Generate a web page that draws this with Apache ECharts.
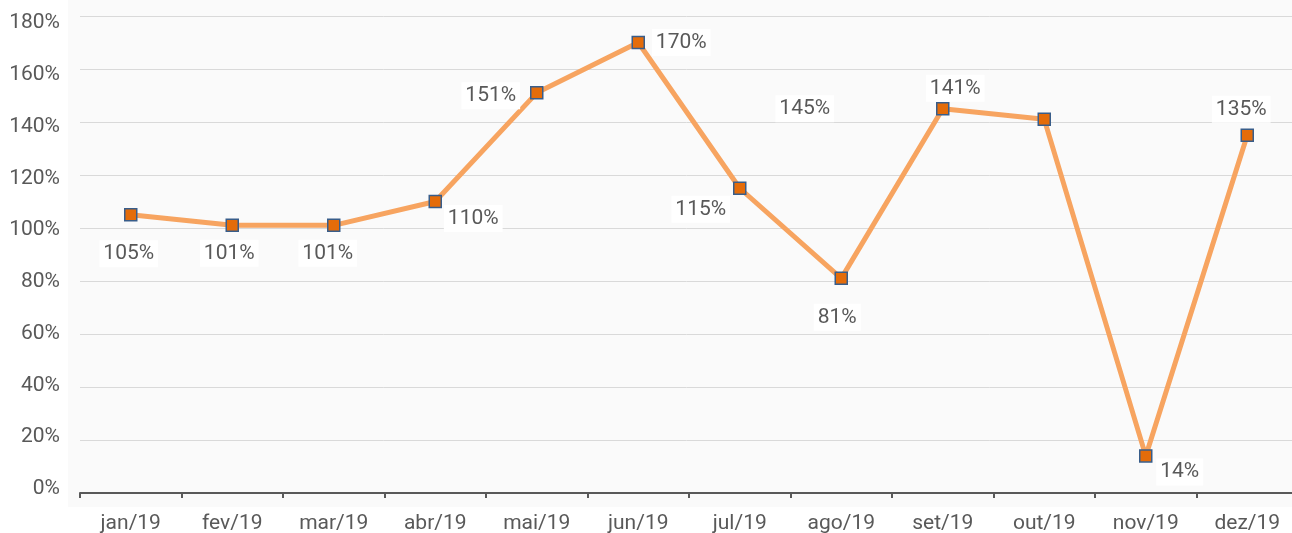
<!DOCTYPE html>
<html>
<head>
<meta charset="utf-8">
<style>
  html, body { margin: 0; padding: 0; background: #ffffff; }
  #chart { width: 1292px; height: 533px; }
</style>
<script src="https://cdn.jsdelivr.net/npm/echarts@6/dist/echarts.min.js"></script>
</head>
<body>
<div id="chart"></div>
<script>
// Monthly achievement, 2019
const months = ['jan/19', 'fev/19', 'mar/19', 'abr/19', 'mai/19', 'jun/19',
                'jul/19', 'ago/19', 'set/19', 'out/19', 'nov/19', 'dez/19'];
const values = [105, 101, 101, 110, 151, 170, 115, 81, 145, 141, 14, 135];
const yTicks = [0, 20, 40, 60, 80, 100, 120, 140, 160, 180];

// Where each value label sits relative to its marker [dx, dy]
const labelOffsets = [
  [-2, 39], [-3, 28], [-6, 28], [38, 17], [-46, 3], [43, 0],
  [-39, 21], [-4, 39], [-138, 0], [-89, -31], [34, 16], [-6, -26]
];

const textColor = '#595959';
const font = 'Roboto, "Noto Sans", sans-serif';
const yMin = yTicks[0];
const yMax = yTicks[yTicks.length - 1];
const yStep = yTicks[1] - yTicks[0];

const chart = echarts.init(document.getElementById('chart'), null, { renderer: 'canvas' });

chart.setOption({
  backgroundColor: '#ffffff',
  animation: false,
  graphic: [{
    type: 'rect', z: -10, silent: true,
    shape: { x: 68, y: 0, width: 1224, height: 507 },
    style: { fill: '#fafafa' }
  }],
  grid: [
    // plot area
    { left: 80, width: 1218, top: 16, bottom: 40, containLabel: false, outerBoundsMode: 'none' },
    // tick-label column for the value axis
    { left: 80, width: 10, top: 23, bottom: 44, containLabel: false, outerBoundsMode: 'none' }
  ],
  xAxis: [{
    type: 'category',
    gridIndex: 0,
    data: months,
    boundaryGap: true,
    axisLine: { show: true, lineStyle: { color: '#595959', width: 2 } },
    axisTick: { show: true, length: 5, lineStyle: { color: '#595959', width: 2 } },
    axisLabel: { color: textColor, fontSize: 21, fontFamily: font, margin: 20 },
    splitLine: { show: false }
  }, {
    type: 'category', gridIndex: 1, data: [''], show: false
  }],
  yAxis: [{
    type: 'value',
    gridIndex: 0,
    min: yMin, max: yMax, interval: yStep,
    axisLine: { show: false },
    axisTick: { show: false },
    axisLabel: { show: false },
    splitLine: { show: true, lineStyle: { color: '#d9d9d9', width: 1 } }
  }, {
    type: 'value',
    gridIndex: 1,
    min: yMin, max: yMax, interval: yStep,
    axisLine: { show: false },
    axisTick: { show: false },
    splitLine: { show: false },
    axisLabel: {
      color: textColor, fontSize: 21, fontFamily: font, margin: 20,
      formatter: v => v + '%'
    }
  }],
  series: [{
    type: 'line',
    xAxisIndex: 0,
    yAxisIndex: 0,
    data: values.map((v, i) => ({
      value: v,
      label: {
        show: true,
        position: 'inside',
        offset: labelOffsets[i],
        formatter: v + '%'
      }
    })),
    lineStyle: { color: '#F7A460', width: 5 },
    symbol: 'rect',
    symbolSize: 12,
    itemStyle: { color: '#E46C0A', borderColor: '#385D8A', borderWidth: 1.5 },
    label: {
      color: textColor, fontSize: 21, fontFamily: font,
      backgroundColor: '#ffffff', padding: [3, 4],
      align: 'center', verticalAlign: 'middle'
    },
    z: 3
  }]
});
</script>
</body>
</html>
